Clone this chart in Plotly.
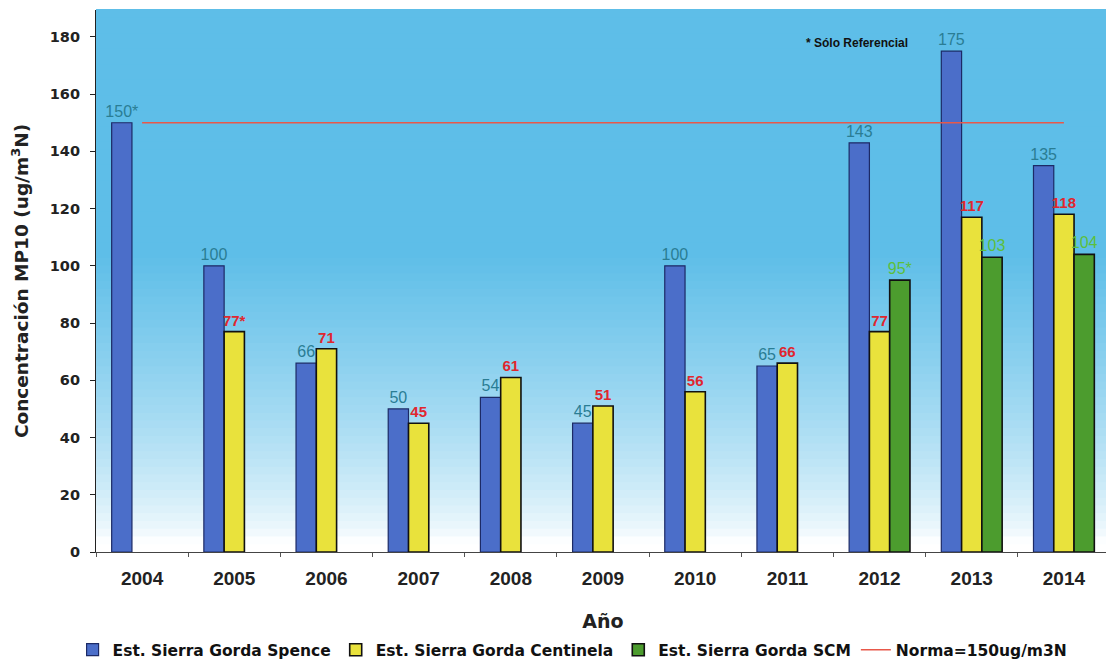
import plotly.graph_objects as go

years = ["2004", "2005", "2006", "2007", "2008", "2009", "2010", "2011", "2012", "2013", "2014"]
spence = [150, 100, 66, 50, 54, 45, 100, 65, 143, 175, 135]
spence_lbl = ["150*", "100", "66", "50", "54", "45", "100", "65", "143", "175", "135"]
centinela = [None, 77, 71, 45, 61, 51, 56, 66, 77, 117, 118]
centinela_lbl = ["", "77*", "71", "45", "61", "51", "56", "66", "77", "117", "118"]
scm = [None, None, None, None, None, None, None, None, 95, 103, 104]
scm_lbl = ["", "", "", "", "", "", "", "", "95*", "103", "104"]
norma = 150
norma_years = ["2004", "2014"]

fig = go.Figure()

fig.add_trace(go.Bar(
    x=years, y=spence, name="Est. Sierra Gorda Spence",
    marker=dict(color="#4b6ec9", line=dict(color="#1c2a66", width=1.2)),
    text=spence_lbl, textposition="outside", cliponaxis=False, constraintext="none",
    textfont=dict(family="Arial", size=16, color="#2a7d94"),
))
fig.add_trace(go.Bar(
    x=years, y=centinela, name="Est. Sierra Gorda Centinela",
    marker=dict(color="#e9e23c", line=dict(color="#111111", width=1.6)),
    text=centinela_lbl, textposition="outside", cliponaxis=False, constraintext="none",
    textfont=dict(family="Arial", size=15, color="#e0262e", weight="bold"),
))
fig.add_trace(go.Bar(
    x=years, y=scm, name="Est. Sierra Gorda SCM",
    marker=dict(color="#4c9c2e", line=dict(color="#111111", width=1.6)),
    text=scm_lbl, textposition="outside", cliponaxis=False, constraintext="none",
    textfont=dict(family="Arial", size=16, color="#5cbf3c"),
))
fig.add_trace(go.Scatter(
    x=norma_years, y=[norma] * len(norma_years), mode="lines",
    name="Norma=150ug/m3N", line=dict(color="#e8584a", width=1.5),
))

# gradient background for plot area (style only)
shapes = []
n = 70
top = (94, 190, 232)
for i in range(n):
    y0 = i / n
    y1 = (i + 1) / n
    f = (y0 + y1) / 2
    t = min(max((f - 0.02) / (0.55 - 0.02), 0), 1)
    t = t ** 0.7
    c = tuple(int(round(255 + (top[k] - 255) * t)) for k in range(3))
    shapes.append(dict(type="rect", xref="paper", yref="paper", x0=0, x1=1,
                       y0=y0, y1=y1 + 0.002, fillcolor="rgb(%d,%d,%d)" % c,
                       line=dict(width=0), layer="below"))

fig.update_layout(
    width=1106, height=656,
    margin=dict(l=88, r=4, t=2, b=112, autoexpand=False),
    paper_bgcolor="white", plot_bgcolor="white",
    barmode="group", bargap=0.34, bargroupgap=0,
    shapes=shapes,
    font=dict(family="Arial", color="#222222"),
    showlegend=True,
    legend=dict(orientation="h", x=0.47, xanchor="center", y=-0.181, yanchor="middle",
                font=dict(family="DejaVu Sans", size=15.5, color="#111111", weight="bold"),
                itemwidth=30, tracegroupgap=0, bgcolor="rgba(0,0,0,0)"),
    annotations=[dict(xref="paper", yref="y", x=0.75, xanchor="center", y=178,
                      text="<b>* Sólo Referencial</b>",
                      showarrow=False, font=dict(family="Arial", size=12, color="#111111"))],
)
fig.update_xaxes(
    type="category", showline=True, linecolor="#444444", linewidth=1,
    ticks="outside", tickson="boundaries", ticklen=4, tickcolor="#555555",
    ticklabelstandoff=9, automargin=False,
    tickfont=dict(family="Arial", size=19, color="#222222", weight="bold"),
    title=dict(text="<b>Año</b>", font=dict(family="DejaVu Sans", size=19, color="#222222"), standoff=26),
    showgrid=False,
)
fig.update_yaxes(
    range=[0, 189.4], tickvals=[0, 20, 40, 60, 80, 100, 120, 140, 160, 180],
    showline=True, linecolor="#222222", linewidth=1.2,
    ticks="outside", ticklen=5, tickcolor="#222222", automargin=False,
    ticklabelstandoff=7,
    tickfont=dict(family="DejaVu Sans", size=14.5, color="#222222", weight="bold"),
    title=dict(text="<b>Concentración MP10 (ug/m<sup>3</sup>N)</b>",
               font=dict(family="DejaVu Sans", size=18.5, color="#222222"), standoff=24),
    showgrid=False, zeroline=False,
)

fig.write_html("out.html")
